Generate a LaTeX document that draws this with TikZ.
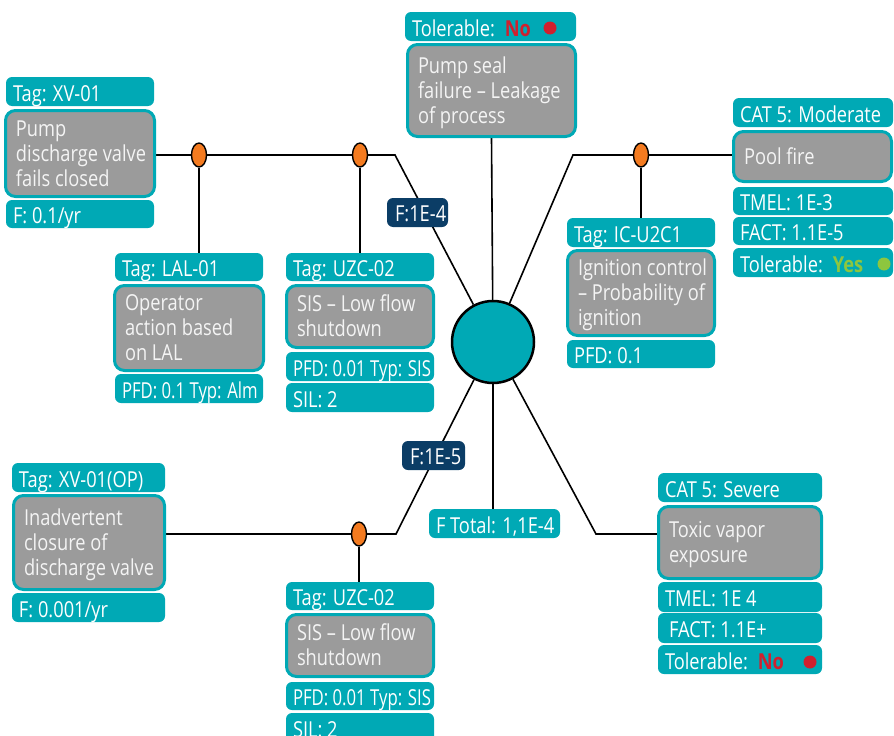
\documentclass[tikz,border=0pt]{standalone}
\usepackage{fontspec}
\setmainfont{Open Sans}[FakeStretch=0.83]
\newfontfamily\narrowfont{Open Sans}[FakeStretch=0.76]
\usetikzlibrary{calc,backgrounds,shapes.geometric}
\setlength\parindent{0pt}

\definecolor{tealc}{HTML}{00A9B5}
\definecolor{grayc}{HTML}{9B9B9B}
\definecolor{graytext}{HTML}{F4F4F4}
\definecolor{navyc}{HTML}{0B3D66}
\definecolor{orangec}{HTML}{F47B20}
\definecolor{redc}{HTML}{D0202E}
\definecolor{greenc}{HTML}{8DC63F}

\tikzset{
  panel/.style={rectangle, rounded corners=6pt, inner sep=0pt, outer sep=0pt},
  tealbox/.style={panel, fill=tealc},
  navybox/.style={panel, fill=navyc},
  graybox/.style={rectangle, rounded corners=10pt, inner sep=0pt,
                  fill=grayc, draw=tealc, line width=3pt},
  txt/.style={inner sep=0pt, outer sep=0pt, text=white,
              font=\fontsize{22}{25}\selectfont},
  link/.style={draw=black, line width=1.6pt},
  valve/.style={ellipse, minimum width=15pt, minimum height=24pt, inner sep=0pt,
                fill=orangec, draw=black, line width=1.4pt},
  hub/.style={circle, minimum size=82pt, inner sep=0pt, fill=tealc,
              draw=black, line width=2.5pt},
  dot/.style={circle, minimum size=13pt, inner sep=0pt},
}

% name, x1, y1, x2, y2, text
\newcommand\tealpanel[6]{%
  \node[tealbox, minimum width={#4-#2}, minimum height={#5-#3}, anchor=north west] (#1) at (#2,#3) {};
  \node[txt, anchor=west] (#1-t) at ($(#1.west)+(7,4.5)$) {\begin{tabular}{@{}l@{}}#6\end{tabular}};}
\newcommand\navypanel[6]{%
  \node[navybox, minimum width={#4-#2}, minimum height={#5-#3}, anchor=north west] (#1) at (#2,#3) {};
  \node[txt, anchor=west] (#1-t) at ($(#1.west)+(8,3.5)$) {\begin{tabular}{@{}l@{}}#6\end{tabular}};}
\newcommand\graypanel[6]{%
  \node[graybox, minimum width={#4-#2-3}, minimum height={#5-#3-3}, anchor=north west] (#1) at (#2,#3) {};
  \node[txt, text=graytext, anchor=west] (#1-t) at ($(#1.west)+(12,2.5)$) {\begin{tabular}{@{}l@{}}#6\end{tabular}};}

\newcommand\tolno{Tolerable:\hspace{10pt}\textcolor{redc}{\textbf{No}}}
\newcommand\tolyes{Tolerable:\hspace{10pt}\textcolor{greenc}{\textbf{Yes}}}

\begin{document}
\begin{tikzpicture}[x=1pt,y=-1pt]
\useasboundingbox (0,0) rectangle (894,736);
\clip (0,0) rectangle (894,736);

% central node
\node[hub] (hub) at (493,342) {};

% bend points of the branch lines
\coordinate (k1) at (395,155);
\coordinate (k2) at (573,155);
\coordinate (k3) at (396,534);
\coordinate (k4) at (596,534);

% initiating event: discharge valve fails closed
\tealpanel{tagA}{6}{77}{154}{106}{Tag: XV-01}
\graypanel{pump}{4}{109}{156}{198}{Pump\\discharge valve\\fails closed}
\tealpanel{fA}{6}{200}{154}{228}{F: 0.1/yr}

% operator alarm layer
\tealpanel{tagL}{115}{253}{263}{281}{Tag: LAL-01}
\graypanel{opL}{113}{284}{265}{372}{Operator\\action based\\on LAL}
\tealpanel{pfdL}{115}{374}{263}{403}{\narrowfont PFD: 0.1 Typ: Alm}

% SIS layer (upper branch)
\tealpanel{tagU}{286}{253}{434}{281}{Tag: UZC-02}
\graypanel{sisU}{285}{284}{435}{349}{SIS -- Low flow\\shutdown}
\tealpanel{pfdU}{286}{352}{434}{381}{\narrowfont PFD: 0.01 Typ: SIS}
\tealpanel{silU}{286}{383}{434}{412}{SIL: 2}

% top event
\tealpanel{tolS}{405}{12}{576}{41}{\tolno}
\node[dot, fill=redc] (tolS-dot) at (550,28) {};
\graypanel{seal}{406}{43}{577}{138}{Pump seal\\failure -- Leakage\\of process}

% ignition control layer
\tealpanel{tagC}{567}{218}{715}{247}{Tag: IC-U2C1}
\graypanel{ign}{566}{249}{716}{337}{Ignition control\\-- Probability of\\ignition}
\tealpanel{pfdC}{567}{340}{715}{368}{PFD: 0.1}

% consequence: pool fire
\tealpanel{catP}{733}{98}{893}{127}{CAT 5: Moderate}
\graypanel{pool}{732}{130}{893}{183}{Pool fire}
\tealpanel{tmelP}{733}{187}{893}{215}{TMEL: 1E-3}
\tealpanel{factP}{733}{217}{893}{245}{FACT: 1.1E-5}
\tealpanel{tolP}{733}{248}{893}{277}{\tolyes}
\node[dot, fill=greenc] (tolP-dot) at (884,264) {};

% frequency labels
\navypanel{f1}{387}{198}{448}{227}{F:1E-4}
\navypanel{f2}{402}{441}{465}{470}{F:1E-5}
\tealpanel{ftot}{429}{509}{560}{538}{F Total: 1,1E-4}

% initiating event: inadvertent closure
\tealpanel{tagI}{12}{463}{165}{492}{Tag: XV-01(OP)}
\graypanel{inad}{12}{494}{166}{591}{Inadvertent\\closure of\\discharge valve}
\tealpanel{fI}{12}{593}{165}{622}{F: 0.001/yr}

% SIS layer (lower branch)
\tealpanel{tagU2}{286}{582}{434}{610}{Tag: UZC-02}
\graypanel{sisU2}{285}{613}{435}{678}{SIS -- Low flow\\shutdown}
\tealpanel{pfdU2}{286}{682}{434}{710}{\narrowfont PFD: 0.01 Typ: SIS}
\tealpanel{silU2}{286}{713}{434}{742}{SIL: 2}

% consequence: toxic vapor
\tealpanel{catT}{658}{473}{822}{502}{CAT 5: Severe}
\graypanel{toxic}{657}{505}{823}{580}{Toxic vapor\\exposure}
\tealpanel{tmelT}{658}{582}{822}{612}{TMEL: 1E 4}
\tealpanel{factT}{658}{613}{822}{643}{\hspace{4pt}FACT: 1.1E+}
\tealpanel{tolT}{658}{645}{822}{674}{\tolno}
\node[dot, fill=redc] (tolT-dot) at (810,662) {};

% protection layer markers
\node[valve] (v1) at (199,155) {};
\node[valve] (v2) at (360,155) {};
\node[valve] (v3) at (641,155) {};
\node[valve] (v4) at (359,534) {};

% connectors
\begin{pgfonlayer}{background}
  \draw[link] (k1 -| pump.east) -- (k1) -- (hub);
  \draw[link] (seal.south) -- (hub);
  \draw[link] (k2 -| pool.west) -- (k2) -- (hub);
  \draw[link] (hub) -- (hub |- ftot.north);
  \draw[link] (hub) -- (k3) -- (k3 -| inad.east);
  \draw[link] (hub) -- (k4) -- (k4 -| toxic.west);
  \draw[link] (v1) -- (v1 |- tagL.north);
  \draw[link] (v2) -- (v2 |- tagU.north);
  \draw[link] (v3) -- (v3 |- tagC.north);
  \draw[link] (v4) -- (v4 |- tagU2.north);
\end{pgfonlayer}
\end{tikzpicture}
\end{document}
